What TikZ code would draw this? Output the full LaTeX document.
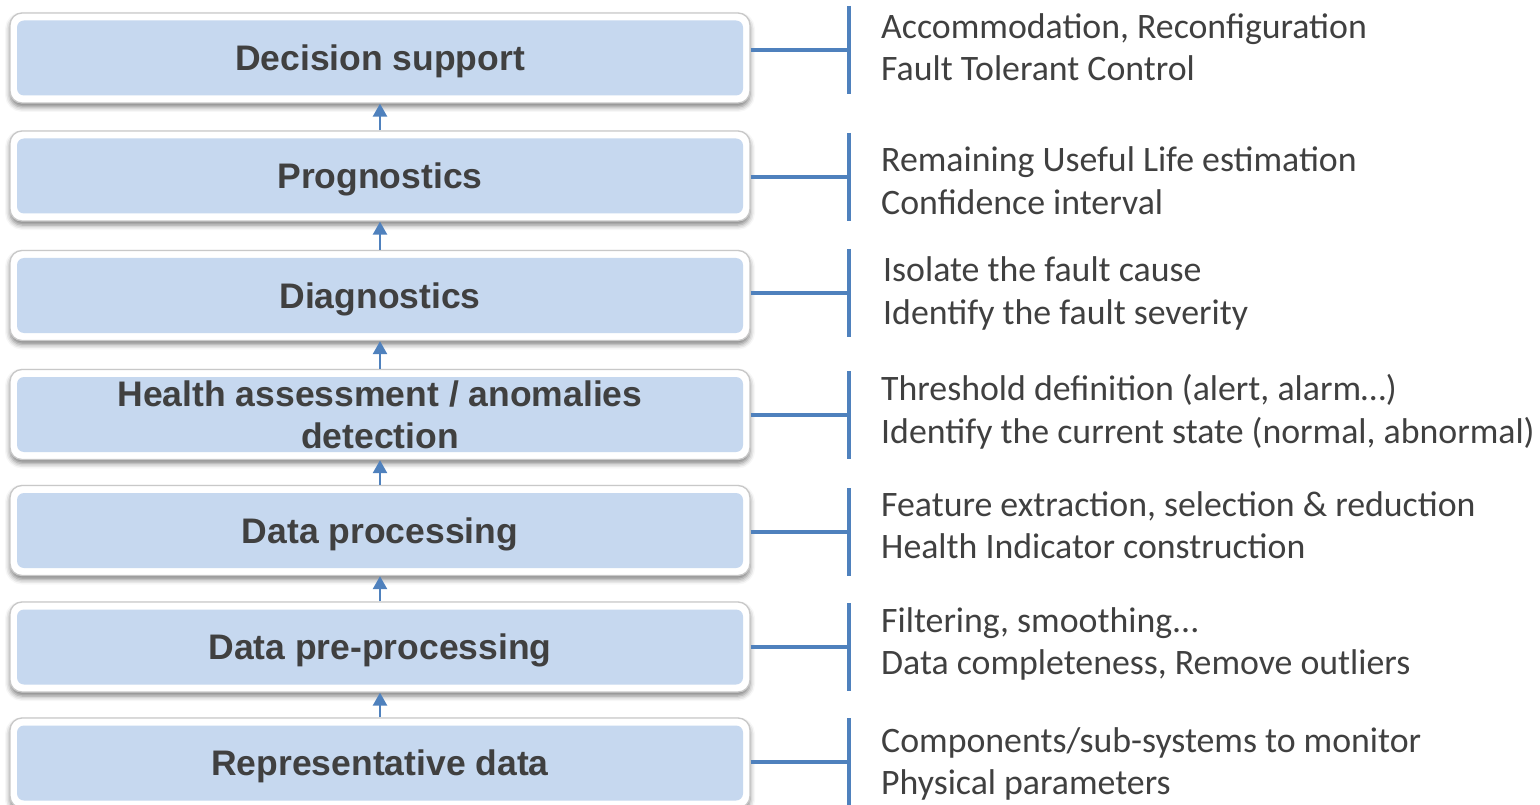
\documentclass[tikz,border=0pt]{standalone}
\usepackage{fontspec}
\setmainfont{Liberation Sans}
\newfontfamily\descfont{Carlito}
\usetikzlibrary{arrows.meta,shadows.blur}

\definecolor{boxblue}{RGB}{198,216,239}
\definecolor{linkblue}{RGB}{79,129,189}
\definecolor{textgray}{RGB}{64,64,64}
\definecolor{framegray}{RGB}{200,200,200}

\tikzset{
  outerbox/.style={draw=framegray, line width=1.3pt, fill=white,
    rounded corners=12pt, minimum width=740pt, minimum height=90pt,
    inner sep=0pt,
    blur shadow={shadow xshift=0pt, shadow yshift=-4pt,
      shadow blur radius=5pt, shadow opacity=50}},
  innerbox/.style={fill=boxblue, rounded corners=7pt,
    minimum width=726pt, minimum height=75pt, inner sep=0pt,
    text=textgray, align=center, text depth=0pt,
    font=\fontsize{35.5}{42}\selectfont\bfseries},
  uparrow/.style={draw=linkblue, line width=2.5pt,
    -{Triangle[length=13pt,width=14pt]}},
  bracket/.style={draw=linkblue, line width=4pt},
  desc/.style={anchor=base west, inner sep=0pt, text=textgray,
    font=\descfont\fontsize{35.8}{42}\selectfont}
}

\begin{document}
\begin{tikzpicture}[x=1pt,y=-1pt]
\useasboundingbox (0,0) rectangle (1540,805);
\clip (0,0) rectangle (1540,805);

% stacked stages, top to bottom
\foreach \n/\y in {1/58,2/176,3/295.5,4/414.5,5/530.5,6/647,7/763}{
  \node[outerbox] (b\n) at (380,\y) {};
}
\node[innerbox] (t1) at (b1) {Decision support};
\node[innerbox] (t2) at (b2) {Prognostics};
\node[innerbox] (t3) at (b3) {Diagnostics};
\node[innerbox] (t4) at (b4) {Health assessment / anomalies\\detection};
\node[innerbox] (t5) at (b5) {Data processing};
\node[innerbox] (t6) at (b6) {Data pre-processing};
\node[innerbox] (t7) at (b7) {Representative data};

% upward flow between stages
\foreach \a/\b in {2/1,3/2,4/3,5/4,6/5,7/6}{
  \draw[uparrow] (b\a.north) -- (b\b.south);
}

% brackets to the task lists
\foreach \n/\y in {1/50,2/177,3/293,4/415,5/532,6/647,7/762}{
  \coordinate (k\n) at (849,\y);
  \draw[bracket] (b\n.east |- k\n) -- (k\n);
  \draw[bracket] ([yshift=44pt]k\n) -- ([yshift=-44pt]k\n);
}

% task lists
\node[desc] (d1a) at (881,39)  {Accommodation, Reconfiguration};
\node[desc] (d1b) at (881,81)  {Fault Tolerant Control};
\node[desc] (d2a) at (881,172) {Remaining Useful Life estimation};
\node[desc] (d2b) at (881,215) {Confidence interval};
\node[desc] (d3a) at (883,281) {Isolate the fault cause};
\node[desc] (d3b) at (883,324) {Identify the fault severity};
\node[desc] (d4a) at (881,400) {Threshold definition (alert, alarm…)};
\node[desc] (d4b) at (881,443) {Identify the current state (normal, abnormal)};
\node[desc] (d5a) at (881,516) {Feature extraction, selection \& reduction};
\node[desc] (d5b) at (881,558) {Health Indicator construction};
\node[desc] (d6a) at (881,632) {Filtering, smoothing...};
\node[desc] (d6b) at (881,674) {Data completeness, Remove outliers};
\node[desc] (d7a) at (881,752) {Components/sub-systems to monitor};
\node[desc] (d7b) at (881,794) {Physical parameters};
\end{tikzpicture}
\end{document}
